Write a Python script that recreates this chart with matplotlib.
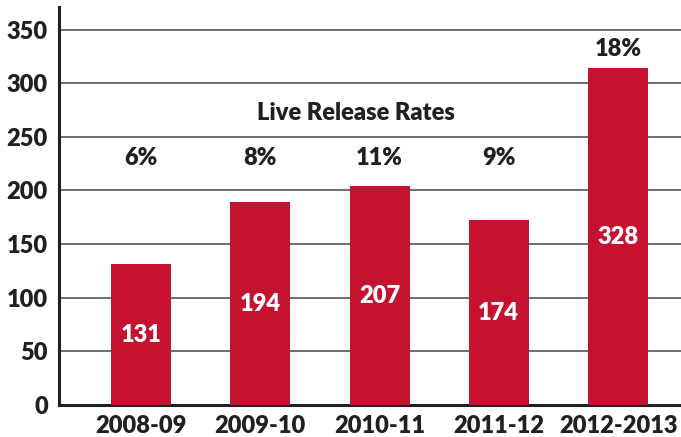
import numpy as np
import matplotlib
matplotlib.use("Agg")
import matplotlib.pyplot as plt

years = ["2008-09", "2009-10", "2010-11", "2011-12", "2012-2013"]
bar_heights = [131, 189, 204, 172, 314]
count_labels = ["131", "194", "207", "174", "328"]
release_rates = ["6%", "8%", "11%", "9%", "18%"]
title = "Live Release Rates"

red = "#C41230"
dark = "#231F20"
fs = 17
wt = "heavy"

plt.rcParams["font.family"] = ["Lato", "DejaVu Sans"]

fig = plt.figure(figsize=(6.81, 4.37), dpi=100)
ax = fig.add_axes([59 / 681, 32 / 437, 622 / 681, 398 / 437])

x = np.arange(len(years))
bars = ax.bar(x, bar_heights, width=0.503, color=red, zorder=3)
ax.bar_label(bars, labels=count_labels, label_type="center", color="white",
             fontsize=fs, fontweight=wt)

for i, rate in enumerate(release_rates):
    ax.text(x[i], max(230, bar_heights[i] + 18), rate, ha="center", va="center",
            fontsize=fs, fontweight=wt, color=dark)
ax.text(1.8, 272, title, ha="center", va="center", fontsize=fs,
        fontweight=wt, color=dark)

ax.set_xlim(-0.688, 4.528)
ax.set_ylim(0, 371)
ax.set_yticks(range(0, 351, 50))
ax.set_xticks(x)
ax.set_xticklabels(years)
ax.grid(axis="y", color="#555555", linewidth=1.2, zorder=0)
ax.tick_params(axis="both", length=0, labelsize=fs, colors=dark)
ax.tick_params(axis="x", pad=7)
ax.tick_params(axis="y", pad=8)
for lbl in ax.get_xticklabels() + ax.get_yticklabels():
    lbl.set_fontweight(wt)
ax.spines["top"].set_visible(False)
ax.spines["right"].set_visible(False)
ax.spines["left"].set_linewidth(2.2)
ax.spines["bottom"].set_linewidth(2.2)
ax.spines["left"].set_color(dark)
ax.spines["bottom"].set_color(dark)

plt.savefig("out.png", dpi=100)
